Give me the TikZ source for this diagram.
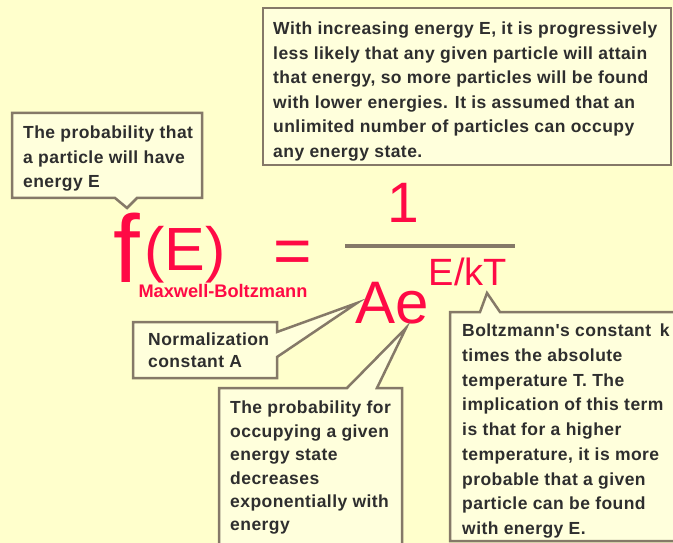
\documentclass[tikz,border=0pt]{standalone}
\usepackage{fontspec}
\setmainfont{Liberation Sans}
\newfontfamily\notefont[LetterSpace=2.5]{Liberation Sans}
\usepackage{xcolor}
\usepackage{tikz}
\usetikzlibrary{positioning}
\definecolor{Paper}{HTML}{FFFFCC}
\definecolor{NoteFill}{HTML}{FFFFDC}
\definecolor{NoteEdge}{HTML}{857968}
\definecolor{NoteText}{HTML}{2E2E2E}
\definecolor{Formula}{HTML}{FF0A45}

\begin{document}
\begin{tikzpicture}[x=1bp,y=-1bp,
  note/.style={draw=NoteEdge,fill=NoteFill,line width=2.5bp,line join=miter},
  notetext/.style={anchor=north west,inner sep=0pt,align=left,text=NoteText,
    font=\notefont\fontsize{17.5bp}{24.5bp}\selectfont\bfseries},
  formula/.style={text=Formula,inner sep=0pt,anchor=base}]
\clip (0,0) rectangle (673,543);
\fill[Paper] (0,0) rectangle (673,543);

% where the callouts point
\coordinate (tipf) at (127,208);
\coordinate (tipA) at (357,303);
\coordinate (tipe) at (406,328);
\coordinate (tipT) at (487,293);

% the distribution
\node[formula,font=\fontsize{96bp}{96bp}\selectfont] (f) at (126.5,282) {f};
\node[formula,font=\fontsize{61bp}{61bp}\selectfont] (arg) at (185,270) {(E)};
\node[formula,font=\fontsize{66bp}{66bp}\selectfont] (eq) at (292.5,273) {=};
\node[formula,font=\fontsize{57bp}{57bp}\selectfont] (one) at (403,223) {1};
\draw[NoteEdge,line width=3bp] (345,246) -- (515,246);
\node[formula,font=\fontsize{60bp}{60bp}\selectfont] (Ae) at (392.5,323) {Ae};
\node[formula,font=\fontsize{38bp}{38bp}\selectfont] (expo) at (468,285) {E/kT};
\node[formula,font=\fontsize{18.2bp}{18bp}\selectfont\bfseries] (mb) at (223,297) {Maxwell-Boltzmann};

% callouts
\draw[note] (263,8) rectangle (671,165);
\node[notetext] (trend) at (273,22) {With increasing energy E, it is progressively\\
  less likely that any given particle will attain\\
  that energy, so more particles will be found\\
  with lower energies. It is assumed that an\\
  unlimited number of particles can occupy\\
  any energy state.};

\draw[note] (12,113) -- (202,113) -- (202,198) -- (137,198) -- (tipf)
  -- (115,198) -- (12,198) -- cycle;
\node[notetext] (prob) at (23,126) {The probability that\\a particle will have\\energy E};

\draw[note] (133,322) -- (277,322) -- (277,332) -- (tipA) -- (277,357)
  -- (277,378) -- (133,378) -- cycle;
\node[notetext,font=\notefont\fontsize{17.5bp}{22bp}\selectfont\bfseries] (norm) at (148,333) {Normalization\\constant A};

\draw[note] (219,560) -- (219,388) -- (347,388) -- (tipe) -- (377,388)
  -- (402,388) -- (402,560);
\node[notetext,font=\notefont\fontsize{17.5bp}{23.4bp}\selectfont\bfseries] (occ) at (230,401) {The probability for\\
  occupying a given\\
  energy state\\
  decreases\\
  exponentially with\\
  energy};

\draw[note] (690,312) -- (500,312) -- (tipT) -- (480,312) -- (450,312)
  -- (450,541) -- (690,541);
\node[notetext,font=\notefont\fontsize{17.5bp}{24.7bp}\selectfont\bfseries] (kT) at (462,324) {Boltzmann's constant\hspace{0.5em}k\\
  times the absolute\\
  temperature T. The\\
  implication of this term\\
  is that for a higher\\
  temperature, it is more\\
  probable that a given\\
  particle can be found\\
  with energy E.};
\end{tikzpicture}
\end{document}
